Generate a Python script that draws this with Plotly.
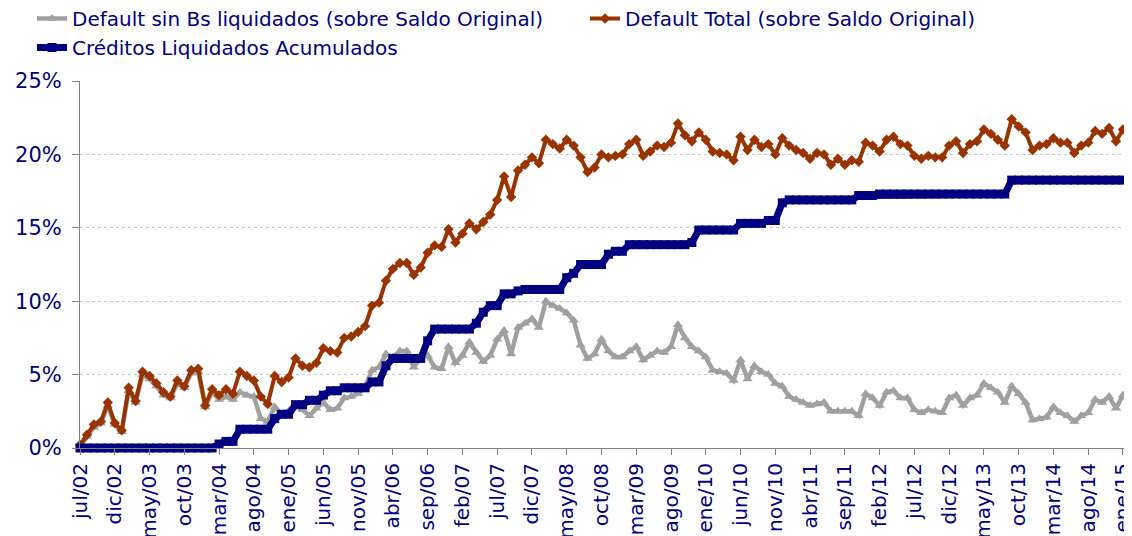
import plotly.graph_objects as go

# meses jul/02 .. feb/15
MESES = ['ene', 'feb', 'mar', 'abr', 'may', 'jun', 'jul', 'ago', 'sep', 'oct', 'nov', 'dic']
periodos = []
for k in range(152):
    m = (6 + k) % 12
    a = 2 + (6 + k) // 12
    periodos.append(f'{MESES[m]}/{a:02d}')

default_total = [
    0.2, 0.9, 1.6, 1.8, 3.1, 1.7, 1.2, 4.1, 3.2, 5.2,
    4.9, 4.4, 3.8, 3.5, 4.6, 4.2, 5.3, 5.4, 2.9, 4.0,
    3.6, 4.0, 3.7, 5.2, 4.9, 4.6, 3.5, 3.0, 4.9, 4.5,
    4.8, 6.1, 5.6, 5.5, 5.8, 6.8, 6.6, 6.5, 7.5, 7.6,
    7.9, 8.3, 9.7, 9.9, 11.4, 12.2, 12.6, 12.6, 11.8, 12.3,
    13.3, 13.8, 13.7, 14.9, 14.0, 14.6, 15.3, 14.9, 15.4, 15.9,
    16.9, 18.5, 17.1, 18.9, 19.3, 19.8, 19.4, 21.0, 20.7, 20.4,
    21.0, 20.6, 19.8, 18.8, 19.1, 20.0, 19.8, 19.9, 20.0, 20.7,
    21.0, 19.9, 20.2, 20.6, 20.5, 20.8, 22.1, 21.3, 20.9, 21.5,
    21.0, 20.2, 20.1, 20.0, 19.6, 21.2, 20.3, 21.0, 20.5, 20.7,
    20.0, 21.1, 20.6, 20.3, 20.1, 19.7, 20.1, 20.0, 19.3, 19.7,
    19.3, 19.6, 19.5, 20.8, 20.6, 20.2, 21.0, 21.2, 20.7, 20.6,
    19.9, 19.7, 19.9, 19.8, 19.8, 20.6, 20.9, 20.1, 20.7, 20.9,
    21.7, 21.4, 21.0, 20.6, 22.4, 21.9, 21.5, 20.3, 20.6, 20.7,
    21.1, 20.8, 20.8, 20.1, 20.6, 20.8, 21.6, 21.4, 21.8, 20.9,
    21.7, 21.4,
]

default_sin_bs = [
    0.1, 0.8, 1.4, 1.7, 2.9, 1.6, 1.1, 3.9, 3.1, 5.0,
    4.7, 4.2, 3.6, 3.4, 4.4, 4.1, 5.1, 5.2, 2.8, 3.8,
    3.3, 3.5, 3.3, 3.8, 3.6, 3.5, 2.0, 1.8, 2.8, 2.3,
    2.5, 3.0, 2.6, 2.2, 2.7, 3.1, 2.6, 2.7, 3.4, 3.5,
    3.7, 4.2, 5.3, 5.5, 6.4, 6.2, 6.6, 6.6, 5.5, 6.2,
    6.3, 5.5, 5.4, 6.9, 5.8, 6.3, 7.2, 6.5, 5.9, 6.3,
    7.4, 8.0, 6.4, 8.2, 8.5, 8.8, 8.2, 10.0, 9.7, 9.5,
    9.2, 8.7, 7.0, 6.1, 6.4, 7.4, 6.6, 6.2, 6.2, 6.6,
    6.9, 6.0, 6.3, 6.6, 6.5, 6.9, 8.4, 7.5, 6.9, 6.6,
    6.2, 5.3, 5.2, 5.1, 4.6, 6.0, 4.7, 5.6, 5.2, 5.0,
    4.4, 4.2, 3.5, 3.3, 3.1, 2.9, 3.0, 3.1, 2.5, 2.5,
    2.5, 2.5, 2.2, 3.7, 3.4, 2.9, 3.8, 3.9, 3.4, 3.4,
    2.6, 2.4, 2.6, 2.5, 2.4, 3.4, 3.6, 2.9, 3.4, 3.6,
    4.4, 4.1, 3.8, 3.1, 4.2, 3.7, 3.1, 1.9, 2.0, 2.1,
    2.8, 2.4, 2.2, 1.8, 2.2, 2.4, 3.3, 3.1, 3.5, 2.7,
    3.6, 3.1,
]

creditos_liquidados = [
    0, 0, 0, 0, 0, 0, 0, 0, 0, 0,
    0, 0, 0, 0, 0, 0, 0, 0, 0, 0,
    0.27, 0.45, 0.45, 1.28, 1.28, 1.28, 1.28, 1.28, 2.0, 2.3,
    2.3, 2.95, 2.95, 3.25, 3.25, 3.6, 3.9, 3.9, 4.1, 4.1,
    4.1, 4.1, 4.5, 4.5, 5.6, 6.1, 6.1, 6.1, 6.1, 6.1,
    7.3, 8.1, 8.1, 8.1, 8.1, 8.1, 8.1, 8.5, 9.25, 9.7,
    9.7, 10.5, 10.5, 10.7, 10.8, 10.8, 10.8, 10.8, 10.8, 10.8,
    11.6, 11.9, 12.5, 12.5, 12.5, 12.5, 13.2, 13.4, 13.4, 13.85,
    13.85, 13.85, 13.85, 13.85, 13.85, 13.85, 13.85, 13.85, 14.0, 14.85,
    14.85, 14.85, 14.85, 14.85, 14.85, 15.3, 15.3, 15.3, 15.3, 15.5,
    15.5, 16.7, 16.9, 16.9, 16.9, 16.9, 16.9, 16.9, 16.9, 16.9,
    16.9, 16.9, 17.2, 17.2, 17.2, 17.3, 17.3, 17.3, 17.3, 17.3,
    17.3, 17.3, 17.3, 17.3, 17.3, 17.3, 17.3, 17.3, 17.3, 17.3,
    17.3, 17.3, 17.3, 17.3, 18.25, 18.25, 18.25, 18.25, 18.25, 18.25,
    18.25, 18.25, 18.25, 18.25, 18.25, 18.25, 18.25, 18.25, 18.25, 18.25,
    18.25, 18.25,
]

etiquetas = periodos[::5]

NAVY = '#000080'
fig = go.Figure()
fig.add_trace(go.Scatter(
    x=periodos, y=default_sin_bs, mode='lines+markers',
    name='Default sin Bs liquidados (sobre Saldo Original)',
    line=dict(color='#A0A0A0', width=4.5),
    marker=dict(symbol='triangle-up', size=9, color='#A0A0A0'),
    cliponaxis=False, legend='legend', legendgroup='g1',
))
fig.add_trace(go.Scatter(
    x=periodos, y=default_total, mode='lines+markers',
    name='Default Total (sobre Saldo Original)',
    line=dict(color='#993300', width=4),
    marker=dict(symbol='diamond', size=8, color='#993300'),
    cliponaxis=False, legend='legend2',
))
fig.add_trace(go.Scatter(
    x=periodos, y=creditos_liquidados, mode='lines+markers',
    name='Créditos Liquidados Acumulados',
    line=dict(color=NAVY, width=7),
    marker=dict(symbol='square', size=9, color=NAVY),
    cliponaxis=False, legend='legend', legendgroup='g2',
))

# la página deja 8px de margen arriba y a la izquierda
W, H = 1124, 528
ANCHO_PLOT, ALTO_PLOT = 1052, 367

leyenda = dict(
    orientation='v', xref='paper', yref='paper',
    xanchor='left', yanchor='top',
    font=dict(size=20, color=NAVY),
    bgcolor='rgba(0,0,0,0)', traceorder='normal', tracegroupgap=2,
)

fig.update_layout(
    width=W, height=H,
    margin=dict(l=72, r=0, t=73, b=88, autoexpand=False),
    paper_bgcolor='white', plot_bgcolor='white',
    font=dict(family='DejaVu Sans, Verdana, sans-serif', color=NAVY),
    showlegend=True,
    legend=dict(leyenda, x=-48 / ANCHO_PLOT, y=1 + 82 / ALTO_PLOT),
    legend2=dict(leyenda, x=505 / ANCHO_PLOT, y=1 + 82 / ALTO_PLOT),
    xaxis=dict(
        type='category', range=[0, 151.3], automargin=False,
        tickmode='array', tickvals=etiquetas, ticktext=etiquetas,
        tickangle=-90, tickfont=dict(size=20, color=NAVY),
        ticks='outside', ticklen=6, tickcolor='#808080',
        showline=True, linecolor='#808080', linewidth=1,
        showgrid=False, zeroline=False,
    ),
    yaxis=dict(
        range=[0, 25], dtick=5, ticksuffix='%', automargin=False,
        tickfont=dict(size=21, color=NAVY),
        ticks='outside', ticklen=7, tickcolor='#808080',
        ticklabelstandoff=6,
        showline=True, linecolor='#808080', linewidth=1,
        showgrid=True, gridcolor='#C8C8C8', griddash='dot', gridwidth=1,
        zeroline=False,
    ),
)

fig.write_html('out.html')
